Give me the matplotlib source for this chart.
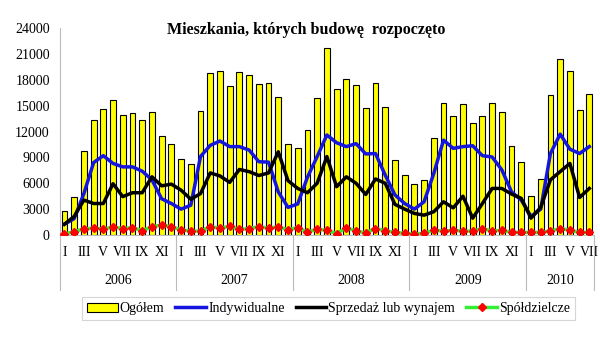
import matplotlib
matplotlib.use('Agg')
import matplotlib.pyplot as plt
import numpy as np
from matplotlib.lines import Line2D

plt.rcParams['font.family'] = ['Liberation Serif', 'DejaVu Serif']

years = ['2006', '2007', '2008', '2009', '2010']
months = ['I', 'II', 'III', 'IV', 'V', 'VI', 'VII', 'VIII', 'IX', 'X', 'XI', 'XII']

ogolem = [2800, 4400, 9700, 13300, 14600, 15700, 13900, 14200, 13300, 14300, 11500, 10500,
          8800, 8200, 14400, 18800, 19050, 17250, 18950, 18600, 17500, 17600, 15950, 10600,
          10100, 12200, 15900, 21700, 16900, 18050, 17450, 14700, 17600, 14800, 8750, 6950,
          5900, 6400, 11200, 15350, 13850, 15250, 12950, 13800, 15350, 14300, 10300, 8450,
          4500, 6550, 16200, 20450, 19000, 14500, 16400]
indywidualne = [1250, 1900, 4800, 8400, 9200, 8300, 7900, 7900, 7400, 6400, 4200, 3650,
                3000, 3450, 9100, 10400, 10900, 10250, 10250, 9850, 8500, 8450, 5000, 3200,
                3600, 6700, 9100, 11600, 10700, 10250, 10600, 9400, 9450, 6950, 4650, 3650,
                3000, 3850, 7150, 11000, 10050, 10250, 10350, 9200, 9050, 7550, 5000, 4050,
                2150, 3000, 9450, 11700, 9950, 9450, 10250]
sprzedaz = [1250, 2150, 4050, 3650, 3650, 5950, 4450, 4900, 4900, 6750, 5700, 5900,
            5200, 4150, 4800, 7200, 6850, 6100, 7600, 7350, 6900, 7200, 9650, 6300,
            5400, 4900, 6000, 9100, 5600, 6750, 6000, 4700, 6500, 6000, 3550, 3000,
            2500, 2300, 2700, 3850, 3150, 4500, 1950, 3650, 5400, 5400, 4750, 4250,
            1950, 3200, 6400, 7350, 8300, 4350, 5400]
spoldzielcze = [100, 400, 700, 800, 700, 900, 750, 850, 500, 950, 1150, 950,
                600, 450, 450, 950, 800, 1000, 650, 750, 950, 800, 950, 600,
                850, 350, 650, 550, 150, 850, 450, 250, 750, 500, 300, 200,
                100, 200, 550, 450, 550, 450, 450, 750, 450, 550, 300, 300,
                300, 300, 450, 750, 550, 300, 300]

n = len(ogolem)
x = np.arange(n)

fig = plt.figure(figsize=(6, 3.42), dpi=100)
ax = fig.add_axes([0.0993, 0.3129, 0.891, 0.605])

bars = ax.bar(x, ogolem, width=0.6, color='#FFFF00', edgecolor='black', linewidth=0.8,
              label='Ogółem', zorder=2)
l1, = ax.plot(x, indywidualne, color='#1515E0', lw=2.5, label='Indywidualne', zorder=3)
l2, = ax.plot(x, sprzedaz, color='black', lw=2.5, label='Sprzedaż lub wynajem', zorder=3)
l3, = ax.plot(x, spoldzielcze, color='#33EE33', lw=2.5, marker='D', markersize=4,
              markerfacecolor='red', markeredgecolor='red', label='Spółdzielcze', zorder=4)

ax.set_xlim(-0.5, n - 0.5)
ax.set_ylim(0, 24000)
ax.set_yticks(np.arange(0, 24001, 3000))
ax.tick_params(axis='y', length=0, pad=7, labelsize=10)

ticks = list(range(0, n, 2))
ax.set_xticks(ticks)
ax.set_xticklabels([months[i % 12] for i in ticks], fontsize=10)
ax.tick_params(axis='x', length=0, pad=8)

for s in ['top', 'right']:
    ax.spines[s].set_visible(False)
ax.spines['left'].set_color('#BBBBBB')
ax.spines['bottom'].set_color('#BBBBBB')

# year separators and labels below the axis
trans = ax.get_xaxis_transform()
ybot = -0.266
for b in [-0.5, 11.5, 23.5, 35.5, 47.5, n - 0.5]:
    ax.add_line(Line2D([b, b], [ybot, 0], transform=trans, color='#BBBBBB',
                       lw=0.8, clip_on=False))
for i, yr in enumerate(years):
    lo = i * 12 - 0.5
    hi = min((i + 1) * 12 - 0.5, n - 0.5)
    ax.text((lo + hi) / 2, -0.222, yr, transform=trans, ha='center', va='center', fontsize=10)

fig.text(0.51, 0.912, 'Mieszkania, których budowę  rozpoczęto', ha='center', va='center',
         fontsize=11.5, fontweight='bold')

leg = fig.legend([bars, l1, l2, l3],
                 ['Ogółem', 'Indywidualne', 'Sprzedaż lub wynajem', 'Spółdzielcze'],
                 loc='center', bbox_to_anchor=(0.5475, 0.097), ncol=4, fontsize=10,
                 frameon=True, fancybox=False, edgecolor='#CCCCCC', handlelength=2.2,
                 handletextpad=0.15, columnspacing=0.8, borderpad=0.35)
leg.get_frame().set_linewidth(0.8)

fig.savefig('out.png', dpi=100)
